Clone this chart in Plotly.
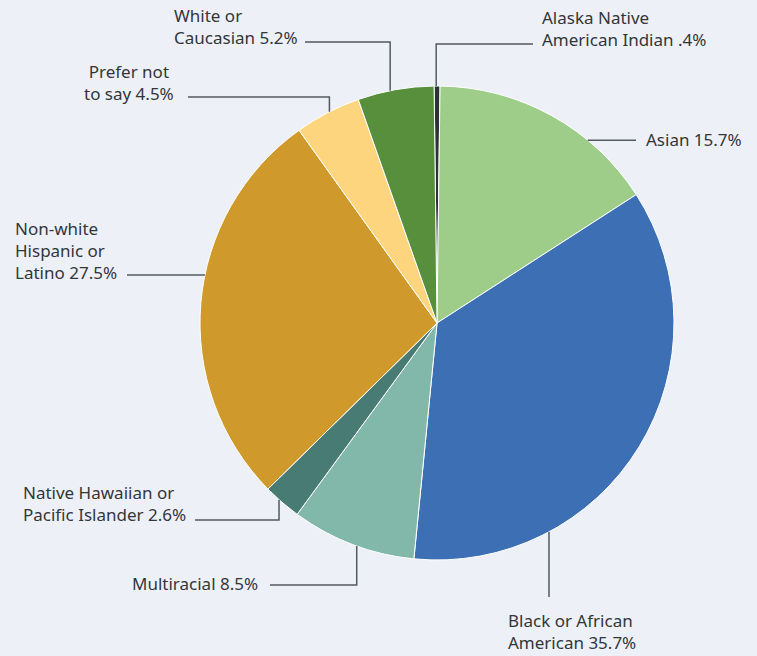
import math
import plotly.graph_objects as go

# Share of respondents by race / ethnicity, clockwise from 12 o'clock
categories = [
    "Alaska Native American Indian",
    "Asian",
    "Black or African American",
    "Multiracial",
    "Native Hawaiian or Pacific Islander",
    "Non-white Hispanic or Latino",
    "Prefer not to say",
    "White or Caucasian",
]
values = [0.4, 15.7, 35.7, 8.5, 2.6, 27.5, 4.5, 5.2]
value_text = [".4%", "15.7%", "35.7%", "8.5%", "2.6%", "27.5%", "4.5%", "5.2%"]
label_lines = [
    ["Alaska Native", "American Indian"],
    ["Asian"],
    ["Black or African", "American"],
    ["Multiracial"],
    ["Native Hawaiian or", "Pacific Islander"],
    ["Non-white", "Hispanic or", "Latino"],
    ["Prefer not", "to say"],
    ["White or", "Caucasian"],
]
colors = ["#2e3238", "#9dcd88", "#3c6fb3", "#82b8aa", "#477b74",
          "#d0992b", "#fdd57e", "#578f3d"]

W, H = 757, 656
CX, CY, R = 437, 323, 237          # pie centre and radius in pixels
ROTATION = -0.7                    # first slice straddles 12 o'clock

# Callout layout: rim angle (deg, clockwise from top), elbow / text position
# kind "v": vertical from rim to elbow then horizontal to text
# kind "h": horizontal from rim to text
callouts = [
    dict(angle=-0.2, kind="v", ey=44, tx=533, anchor="left", text_x=540, text_y=28),
    dict(angle=39.5, kind="h", ey=None, tx=636, anchor="left", text_x=644, text_y=139),
    dict(angle=151.8, kind="v", ey=597, tx=None, anchor="left", text_x=506, text_y=631),
    dict(angle=199.8, kind="v", ey=585, tx=270, anchor="right", text_x=260, text_y=583),
    dict(angle=221.8, kind="v", ey=520, tx=195, anchor="right", text_x=188, text_y=503),
    dict(angle=281.7, kind="h", ey=None, tx=127, anchor="left", text_x=13, text_y=250),
    dict(angle=333.0, kind="v", ey=97, tx=188, anchor="center", text_x=129, text_y=83),
    dict(angle=348.6, kind="v", ey=42, tx=305, anchor="left", text_x=172, text_y=27),
]


def px(x):
    return x / W


def py(y):
    return 1 - y / H


fig = go.Figure()
fig.add_trace(go.Pie(
    labels=categories,
    values=values,
    sort=False,
    direction="clockwise",
    rotation=ROTATION,
    marker=dict(colors=colors, line=dict(color="#ffffff", width=1)),
    textinfo="none",
    hoverinfo="label+percent",
    showlegend=False,
    domain=dict(x=[px(CX - R), px(CX + R)], y=[py(CY + R), py(CY - R)]),
))

shapes = []
annotations = []
line_style = dict(color="#555a60", width=1.5)
for c, lines, vt in zip(callouts, label_lines, value_text):
    a = math.radians(c["angle"])
    rx = CX + R * math.sin(a)
    ry = CY - R * math.cos(a)
    if c["kind"] == "v":
        pts = [(rx, ry), (rx, c["ey"])]
        if c["tx"] is not None:
            pts.append((c["tx"], c["ey"]))
    else:
        pts = [(rx, ry), (c["tx"], ry)]
    path = "M " + " L ".join(f"{px(x):.5f},{py(y):.5f}" for x, y in pts)
    shapes.append(dict(type="path", path=path, xref="paper", yref="paper",
                       line=line_style))

    text_lines = list(lines)
    text_lines[-1] = text_lines[-1] + " " + vt
    xanchor = {"left": "left", "right": "right", "center": "center"}[c["anchor"]]
    align = "center" if c["anchor"] == "center" else "left"
    annotations.append(dict(
        x=px(c["text_x"]), y=py(c["text_y"]), xref="paper", yref="paper",
        text="<br>".join(text_lines), showarrow=False,
        xanchor=xanchor, yanchor="middle", align=align,
        font=dict(family="'Noto Sans', sans-serif", size=17, color="#333639"),
    ))

fig.update_layout(
    width=W, height=H,
    margin=dict(l=0, r=0, t=0, b=0),
    paper_bgcolor="#edf1f7",
    plot_bgcolor="#edf1f7",
    shapes=shapes,
    annotations=annotations,
)

fig.write_html("out.html")
